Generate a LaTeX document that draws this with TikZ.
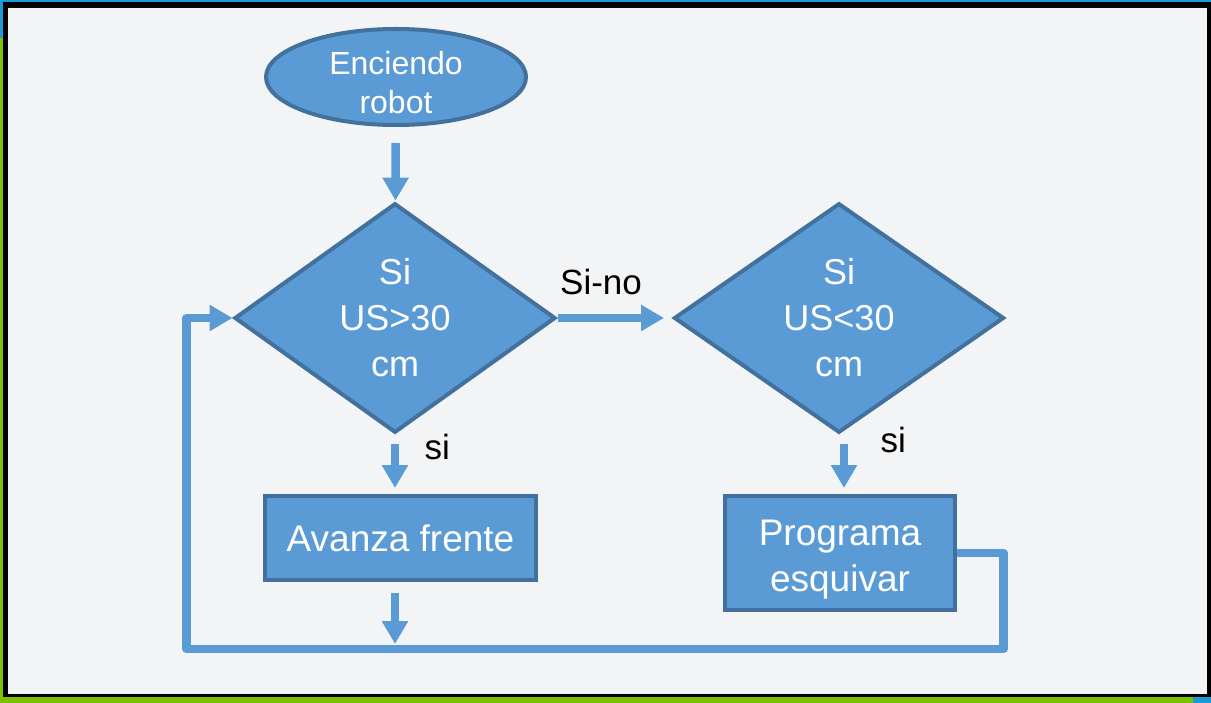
\documentclass[tikz,border=0pt]{standalone}
\usepackage{fontspec}
\setmainfont{Liberation Sans}
\usepackage{tikz}
\usetikzlibrary{positioning,
                arrows.meta,                % arrow tips
                shapes.geometric}           % ellipse and diamond

\definecolor{boxblue}{HTML}{5B9BD5}
\definecolor{boxedge}{HTML}{41719C}
\definecolor{paper}{HTML}{F3F4F6}
\definecolor{edgeblue}{HTML}{1A9AD6}
\definecolor{edgegreen}{HTML}{7CC200}

\begin{document}
\begin{tikzpicture}[x=1pt, y=-1pt,
        box/.style={draw=boxedge, fill=boxblue, line width=4pt, text=white,
                    align=center, inner sep=0pt},
        flow/.style={draw=boxblue, line width=8.5pt, line join=round,
                     -{Triangle[width=25pt, length=23pt]}},
        lbl/.style={text=black, font=\fontsize{35}{42}\selectfont}]
        % frame
        \useasboundingbox (0,0) rectangle (1211,703);
        \fill[black] (0,0) rectangle (1211,703);
        \fill[edgeblue] (0,0) rectangle (1211,2);
        \fill[edgeblue] (0,0) rectangle (3,38);
        \fill[edgegreen] (0,38) rectangle (3,703);
        \fill[edgegreen] (0,697) rectangle (1193,703);
        \fill[edgeblue] (1193,697) rectangle (1211,703);
        \fill[paper] (8,8) rectangle (1207,694);

        % shapes
        \node[box, ellipse, inner ysep=-6pt, minimum width=260, minimum height=96,
              font=\fontsize{32}{39}\selectfont] (start) at (396,77) {\rule{0pt}{34pt}Enciendo\\robot};
        \node[box, diamond, minimum width=321, minimum height=217,
              font=\fontsize{36}{46}\selectfont] (us1) at (395,318) {Si\\US>30\\cm};
        \node[box, diamond, minimum width=330, minimum height=216,
              font=\fontsize{36}{46}\selectfont] (us2) at (839,318) {Si\\US<30\\cm};
        \node[box, rectangle, minimum width=271, minimum height=84,
              font=\fontsize{37}{46}\selectfont] (avanza) at (400.5,538) {Avanza frente};
        \node[box, rectangle, minimum width=230, minimum height=114,
              font=\fontsize{37}{46}\selectfont] (esquivar) at (840,553) {\rule{0pt}{38pt}Programa\\esquivar};

        \coordinate (loopR) at (1003.5,649);
        \coordinate (loopL) at (186.5,649);

        % connectors
        \draw[flow, shorten <=16pt, shorten >=1pt] (start) -- (us1);
        \draw[flow, shorten >=8pt] (us1) -- (us2)
                node[lbl, pos=0.38, above=16pt] (sino) {Si-no};
        \draw[flow, shorten <=9pt, shorten >=6pt] (us1.south) -- (us1.south |- avanza.north)
                node[lbl, pos=0.2, right=22pt] (si1) {si};
        \draw[flow, shorten <=9pt, shorten >=6pt] ([xshift=5pt]us2.south) -- ([xshift=5pt]us2.south |- esquivar.north)
                node[lbl, pos=0.08, right=29pt] (si2) {si};
        \draw[flow, shorten <=11pt, shorten >=5pt] (us1.south |- avanza.south) -- (us1.south |- loopL);
        \draw[flow] (esquivar.east) -| (loopR) -- (loopL) |- (us1.west);
\end{tikzpicture}
\end{document}
